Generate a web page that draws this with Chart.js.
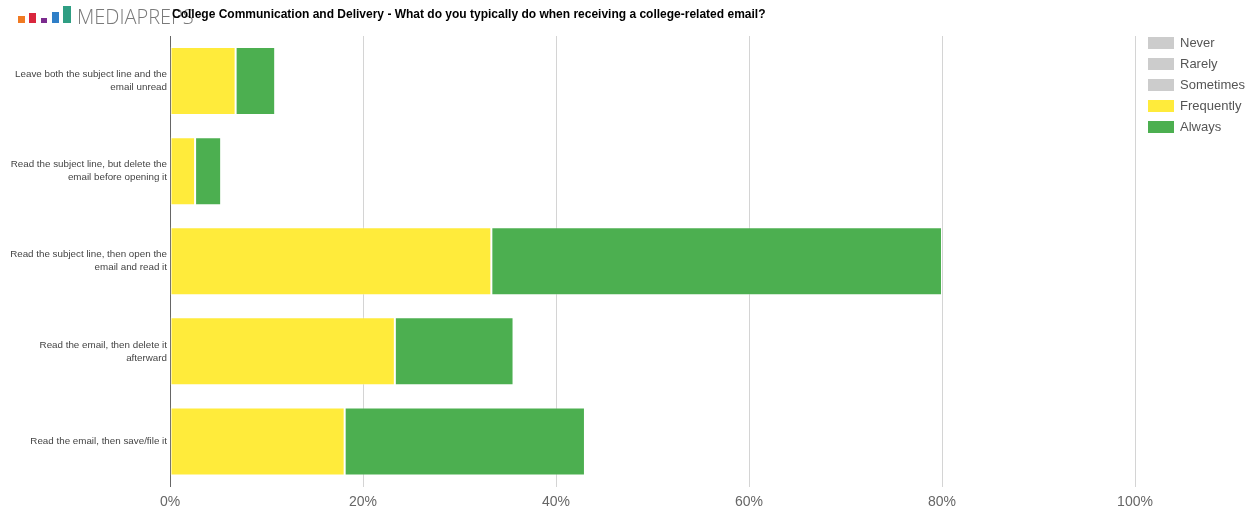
<!DOCTYPE html>
<html>
<head>
<meta charset="utf-8">
<script src="https://cdn.jsdelivr.net/npm/chart.js@4/dist/chart.umd.min.js"></script>
<style>
  html, body { margin: 0; padding: 0; background: #fff; }
  #wrap { position: relative; width: 1251px; height: 510px; }
  canvas { display: block; }
</style>
</head>
<body>
<div id="wrap"><canvas id="c" width="1251" height="510"></canvas></div>
<script>
// Survey categories (answers) and response shares per frequency level, in %
const categories = [
  ["Leave both the subject line and the", "email unread"],
  ["Read the subject line, but delete the", "email before opening it"],
  ["Read the subject line, then open the", "email and read it"],
  ["Read the email, then delete it", "afterward"],
  ["Read the email, then save/file it"]
];
const seriesNames = ["Never", "Rarely", "Sometimes", "Frequently", "Always"];
const never      = [0, 0, 0, 0, 0];
const rarely     = [0, 0, 0, 0, 0];
const sometimes  = [0, 0, 0, 0, 0];
const frequently = [6.8, 2.6, 33.3, 23.3, 18.1];
const always     = [4.1, 2.7, 46.7, 12.3, 24.9];
const xTicks = [0, 20, 40, 60, 80, 100];
const titleText = "College Communication and Delivery - What do you typically do when receiving a college-related email?";
const brandText = "MEDIAPREPS";

const colors = ["#cccccc", "#cccccc", "#cccccc", "#ffeb3b", "#4caf50"];
const values = [never, rarely, sometimes, frequently, always];

const datasets = seriesNames.map((name, i) => ({
  label: name,
  data: values[i],
  backgroundColor: colors[i],
  borderColor: "rgba(255,255,255,0.35)",
  borderWidth: 1,
  borderSkipped: false,
  barPercentage: 0.755,
  categoryPercentage: 1
}));

// Header: brand mark + title
const headerPlugin = {
  id: "header",
  afterDraw(chart) {
    const ctx = chart.ctx;
    ctx.save();
    const blocks = [
      { x: 18, y: 16, w: 7, h: 7, c: "#f07a22" },
      { x: 29, y: 13, w: 7, h: 10, c: "#d9263d" },
      { x: 41, y: 18, w: 6, h: 5, c: "#7b2b8e" },
      { x: 52, y: 12, w: 7, h: 11, c: "#2f7fc7" },
      { x: 63, y: 6, w: 8, h: 17, c: "#2f9e83" }
    ];
    blocks.forEach(b => { ctx.fillStyle = b.c; ctx.fillRect(b.x, b.y, b.w, b.h); });
    ctx.fillStyle = "#7a7a7a";
    ctx.font = "300 20px 'Open Sans', 'Liberation Sans', Arial, sans-serif";
    ctx.textBaseline = "alphabetic";
    ctx.textAlign = "left";
    ctx.fillText(brandText, 77, 23.5);
    ctx.fillStyle = "#000";
    ctx.font = "bold 12px 'Liberation Sans', Arial, sans-serif";
    ctx.textBaseline = "middle";
    ctx.fillText(titleText, 172, 15);
    ctx.restore();
  }
};

// Legend drawn from the datasets on the right
const legendPlugin = {
  id: "sideLegend",
  afterDraw(chart) {
    const ctx = chart.ctx;
    ctx.save();
    ctx.font = "13px 'Liberation Sans', Arial, sans-serif";
    ctx.textBaseline = "middle";
    chart.data.datasets.forEach((ds, i) => {
      const cy = 43 + i * 21;
      ctx.fillStyle = ds.backgroundColor;
      ctx.fillRect(1148, cy - 6, 26, 12);
      ctx.fillStyle = "#555";
      ctx.fillText(ds.label, 1180, cy);
    });
    ctx.restore();
  }
};

new Chart(document.getElementById("c"), {
  type: "bar",
  data: { labels: categories, datasets },
  options: {
    indexAxis: "y",
    responsive: false,
    animation: false,
    layout: { padding: { top: 36, right: 116, left: 0, bottom: 0 } },
    plugins: { legend: { display: false }, tooltip: { enabled: false }, title: { display: false } },
    scales: {
      x: {
        stacked: true,
        min: 0,
        max: 100,
        afterBuildTicks(scale) { scale.ticks = xTicks.map(v => ({ value: v })); },
        afterFit(scale) { scale.height = 23.5; },
        grid: { color: "#d4d4d4", lineWidth: 1, drawTicks: false },
        border: { display: false },
        ticks: {
          padding: 7,
          color: "#666",
          font: { size: 14, family: "'Liberation Sans', Arial, sans-serif" },
          callback: v => v + "%"
        }
      },
      y: {
        stacked: true,
        afterFit(scale) { scale.width = 170; },
        grid: { display: false, drawTicks: false },
        border: { display: true, color: "#666", width: 1 },
        ticks: {
          padding: 3,
          color: "#444",
          font: { size: 9.8, family: "'Liberation Sans', Arial, sans-serif", lineHeight: 1.33 }
        }
      }
    }
  },
  plugins: [headerPlugin, legendPlugin]
});
</script>
</body>
</html>
